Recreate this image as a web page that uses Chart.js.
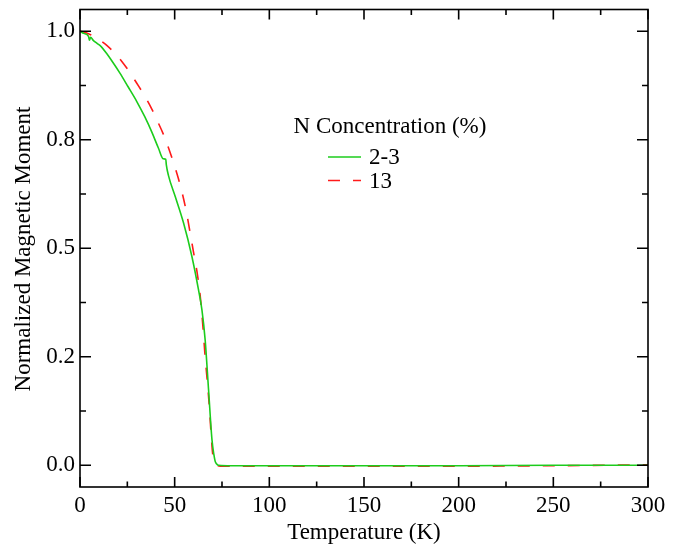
<!DOCTYPE html>
<html>
<head>
<meta charset="utf-8">
<script src="https://cdn.jsdelivr.net/npm/chart.js@4.4.0/dist/chart.umd.min.js"></script>
<style>
  html, body { margin: 0; padding: 0; background: #fff; }
  #wrap { width: 676px; height: 546px; }
</style>
</head>
<body>
<div id="wrap"><canvas id="chart"></canvas></div>
<script>
// ── Data ──────────────────────────────────────────────────────
const TEMP_23   = [0, 2, 4.5, 5.0, 5.6, 7, 9, 11.3, 14, 16.6, 21, 25.4, 30, 34.2, 38, 41.4, 44, 45.3, 45.6, 46.7,
                   50.3, 54.7, 59.1, 62.6, 64.4, 66.1, 67.9, 69.7, 70.7, 71.4, 72.2, 73.2, 80, 100, 150, 200, 250, 300];
const MOMENT_23 = [1.0, 0.995, 0.988, 0.979, 0.986, 0.979, 0.972, 0.964, 0.949, 0.933, 0.904, 0.872, 0.838, 0.803, 0.767, 0.731, 0.706, 0.705, 0.692, 0.668,
                   0.619, 0.558, 0.481, 0.404, 0.358, 0.289, 0.174, 0.059, 0.025, 0.009, 0.003, 0.0, -0.001, -0.001, -0.001, -0.001, 0.0, 0.0];

const TEMP_13   = [0, 2, 5, 8, 11, 14, 18, 22, 26, 30, 34, 38, 41, 44, 47, 50, 52, 54, 56, 58,
                   60, 62, 63.5, 65, 66, 67, 68.3, 69.2, 70.1, 71, 72, 74, 100, 150, 200, 250, 300];
const MOMENT_13 = [1.0, 0.998, 0.993, 0.987, 0.978, 0.968, 0.951, 0.931, 0.907, 0.880, 0.852, 0.820, 0.792, 0.763, 0.728, 0.689, 0.660, 0.627, 0.588, 0.540,
                   0.490, 0.440, 0.390, 0.315, 0.255, 0.205, 0.136, 0.075, 0.025, 0.008, 0.001, -0.002, -0.002, -0.002, -0.002, -0.001, 0.001];

const SERIES_NAMES = ['2-3', '13'];
const LEGEND_TITLE = 'N Concentration (%)';

const X_TICKS       = [0, 50, 100, 150, 200, 250, 300];
const X_MINOR       = [25, 75, 125, 175, 225, 275];
const Y_TICKS       = [0, 0.25, 0.5, 0.75, 1.0];
const Y_TICK_LABELS = ['0.0', '0.2', '0.5', '0.8', '1.0'];
const Y_MINOR       = [0.125, 0.375, 0.625, 0.875];

const X_TITLE = 'Temperature (K)';
const Y_TITLE = 'Normalized Magnetic Moment';

const FONT   = '"Liberation Serif", "Times New Roman", serif';
const FSIZE  = 23;
const GREEN  = '#1ccc1c';
const RED    = '#ff1a1a';

// ── Frame, inward ticks, titles, legend ───────────────────────
const framePlugin = {
    id: 'frame',
    afterDraw(chart) {
        const { ctx, chartArea: a, scales: { x, y } } = chart;
        ctx.save();
        ctx.strokeStyle = '#000';
        ctx.lineWidth = 1.6;
        ctx.strokeRect(a.left, a.top, a.right - a.left, a.bottom - a.top);

        ctx.beginPath();
        const xt = (vals, len) => vals.forEach(v => {
            const px = x.getPixelForValue(v);
            ctx.moveTo(px, a.bottom); ctx.lineTo(px, a.bottom - len);
            ctx.moveTo(px, a.top);    ctx.lineTo(px, a.top + len);
        });
        const yt = (vals, len) => vals.forEach(v => {
            const py = y.getPixelForValue(v);
            ctx.moveTo(a.left, py);  ctx.lineTo(a.left + len, py);
            ctx.moveTo(a.right, py); ctx.lineTo(a.right - len, py);
        });
        xt(X_TICKS, 10); xt(X_MINOR, 5.5);
        yt(Y_TICKS, 11); yt(Y_MINOR, 6);
        ctx.stroke();

        // axis titles
        ctx.fillStyle = '#000';
        ctx.font = `${FSIZE}px ${FONT}`;
        ctx.textAlign = 'center';
        ctx.textBaseline = 'middle';
        ctx.fillText(X_TITLE, (a.left + a.right) / 2, 533);
        ctx.save();
        ctx.translate(24, 249);
        ctx.rotate(-Math.PI / 2);
        ctx.fillText(Y_TITLE, 0, 0);
        ctx.restore();

        // legend
        ctx.fillText(LEGEND_TITLE, 390, 127);
        ctx.textAlign = 'left';
        chart.data.datasets.forEach((ds, i) => {
            const ly = 157 + i * 23.5;
            ctx.beginPath();
            ctx.strokeStyle = ds.borderColor;
            ctx.lineWidth = ds.borderWidth;
            ctx.setLineDash(ds.borderDash || []);
            ctx.moveTo(328, ly); ctx.lineTo(361, ly);
            ctx.stroke();
            ctx.setLineDash([]);
            ctx.fillText(ds.label, 369, ly + 1);
        });
        ctx.restore();
    }
};

const toPoints = (xs, ys) => xs.map((t, i) => ({ x: t, y: ys[i] }));

new Chart(document.getElementById('chart'), {
    type: 'line',
    data: {
        datasets: [
            { label: SERIES_NAMES[0], data: toPoints(TEMP_23, MOMENT_23), borderColor: GREEN, borderWidth: 1.6,
              pointRadius: 0, fill: false, cubicInterpolationMode: 'monotone' },
            { label: SERIES_NAMES[1], data: toPoints(TEMP_13, MOMENT_13), borderColor: RED, borderWidth: 1.6,
              borderDash: [12, 13], pointRadius: 0, fill: false, cubicInterpolationMode: 'monotone' },
        ],
    },
    options: {
        responsive: true, maintainAspectRatio: false, animation: false,
        layout: { padding: { top: 9.5, right: 28, left: 0, bottom: 0 } },
        plugins: { legend: { display: false }, tooltip: { enabled: false } },
        scales: {
            x: {
                type: 'linear', min: 0, max: 300,
                afterBuildTicks: s => { s.ticks = X_TICKS.map(v => ({ value: v })); },
                afterFit: s => { s.height = 59; s.paddingLeft = 0; s.paddingRight = 0; },
                grid: { display: false, drawTicks: false }, border: { display: false },
                ticks: { color: '#000', font: { family: FONT, size: FSIZE }, padding: 5, maxRotation: 0,
                         callback: v => String(v) },
            },
            y: {
                type: 'linear', min: -0.05, max: 1.05,
                afterBuildTicks: s => { s.ticks = Y_TICKS.map(v => ({ value: v })); },
                afterFit: s => { s.width = 80; s.paddingTop = 0; s.paddingBottom = 0; },
                grid: { display: false, drawTicks: false }, border: { display: false },
                ticks: { color: '#000', font: { family: FONT, size: FSIZE }, padding: 5,
                         callback: (v, i) => Y_TICK_LABELS[i] },
            },
        },
    },
    plugins: [framePlugin],
});
</script>
</body>
</html>
